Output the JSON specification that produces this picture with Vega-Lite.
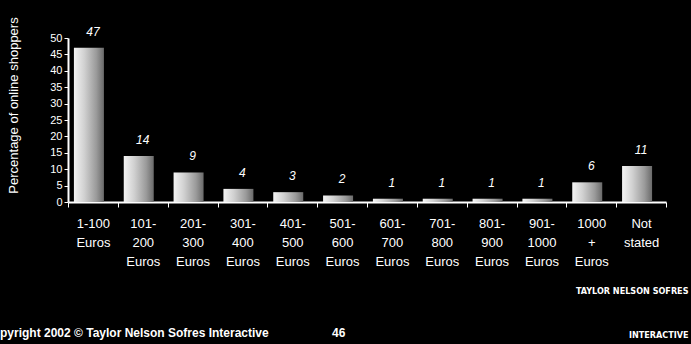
{
  "$schema": "https://vega.github.io/schema/vega-lite/v6.json",
  "width": 598,
  "height": 164,
  "autosize": {"type": "none"},
  "padding": {"left": 68, "top": 38, "right": 25, "bottom": 142},
  "background": "#000000",
  "config": {
    "view": {"stroke": null},
    "font": "Liberation Sans",
    "axis": {"grid": false, "domainColor": "#ffffff", "tickColor": "#ffffff", "labelColor": "#ffffff", "titleColor": "#ffffff", "labelFont": "Liberation Sans", "titleFont": "Liberation Sans"}
  },
  "title": {
    "text": "pyright 2002 © Taylor Nelson Sofres Interactive\u00a0\u00a0\u00a0\u00a0\u00a0\u00a0\u00a0\u00a0\u00a0\u00a0\u00a0\u00a0\u00a0\u00a0\u00a0\u00a0\u00a0\u00a0\u00a046",
    "orient": "bottom",
    "anchor": "start",
    "frame": "group",
    "dx": -68,
    "dy": -11,
    "color": "#ffffff",
    "font": "Liberation Sans",
    "fontSize": 12,
    "fontWeight": "bold",
    "offset": 0
  },
  "data": {
    "values": [
      {"range": "1-100|Euros", "pct": 47},
      {"range": "101-|200|Euros", "pct": 14},
      {"range": "201-|300|Euros", "pct": 9},
      {"range": "301-|400|Euros", "pct": 4},
      {"range": "401-|500|Euros", "pct": 3},
      {"range": "501-|600|Euros", "pct": 2},
      {"range": "601-|700|Euros", "pct": 1},
      {"range": "701-|800|Euros", "pct": 1},
      {"range": "801-|900|Euros", "pct": 1},
      {"range": "901-|1000|Euros", "pct": 1},
      {"range": "1000|+|Euros", "pct": 6},
      {"range": "Not|stated", "pct": 11}
    ]
  },
  "encoding": {
    "x": {
      "field": "range",
      "type": "nominal",
      "sort": null,
      "scale": {"paddingInner": 0, "paddingOuter": 0},
      "axis": {
        "title": ["TAYLOR NELSON  SOFRES", "INTERACTIVE"],
        "titleFont": "DejaVu Sans Condensed",
        "titleFontSize": 9,
        "titleFontWeight": "bold",
        "titleLineHeight": 44,
        "titleAlign": "right",
        "titleAnchor": null,
        "titleX": 620,
        "titleY": 88,
        "titleBaseline": "middle",
        "labelAngle": 0,
        "labelExpr": "datum.value ? split(datum.value, '|') : ''",
        "labelFontSize": 13,
        "labelLineHeight": 19,
        "labelBaseline": "top",
        "labelPadding": 10,
        "tickBand": "extent",
        "tickSize": 5,
        "domainWidth": 2,
        "labelColor": "#ffffff"
      }
    },
    "y": {
      "field": "pct",
      "type": "quantitative",
      "scale": {"domain": [0, 50], "nice": false},
      "axis": {
        "title": "Percentage of online shoppers",
        "titleFontSize": 13,
        "titleFontWeight": "normal",
        "titleX": -55,
        "titleY": 67,
        "titleAngle": -90,
        "titleAlign": "center",
        "titleBaseline": "middle",
        "values": [0, 5, 10, 15, 20, 25, 30, 35, 40, 45, 50],
        "labelFontSize": 11,
        "tickSize": 4,
        "labelPadding": 2,
        "domainWidth": 2
      }
    }
  },
  "layer": [
    {
      "mark": {
        "type": "bar",
        "width": 30,
        "xOffset": -4,
        "color": {
          "gradient": "linear",
          "x1": 0, "y1": 0, "x2": 1, "y2": 0,
          "stops": [
            {"offset": 0, "color": "#f4f4f4"},
            {"offset": 0.35, "color": "#d0d0d0"},
            {"offset": 0.75, "color": "#9a9a9a"},
            {"offset": 1, "color": "#6a6a6a"}
          ]
        }
      }
    },
    {
      "mark": {"type": "text", "baseline": "bottom", "dy": -9, "fontStyle": "italic", "fontSize": 12, "color": "#ffffff"},
      "encoding": {"text": {"field": "pct", "type": "quantitative"}}
    }
  ]
}
